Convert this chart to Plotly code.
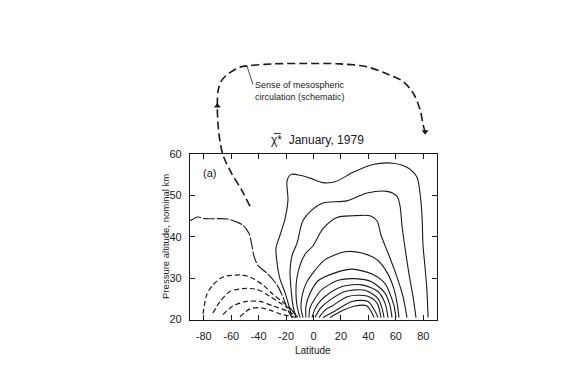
import plotly.graph_objects as go

# ---------------- data (latitude in degrees, pressure altitude in km) ----------------
x_ticks = [-80, -60, -40, -20, 0, 20, 40, 60, 80]
x_tick_labels = ["-80", "-60", "-40", "-20", "0", "20", "40", "60", "80"]
y_ticks = [20, 30, 40, 50, 60]
y_tick_labels = ["20", "30", "40", "50", "60"]

# upper-left contour (from the left edge at ~44 km down to the source near -15 deg)
l1_lat = [-90, -84.2, -79.1, -62.3, -51.4, -47.0, -44.8, -43.4, -40.5, -33.2, -26.6, -22.2, -18.6, -15.7]
l1_alt = [43.9, 44.8, 44.4, 44.3, 42.8, 40.8, 37.8, 35.4, 33.1, 31.0, 28.4, 25.4, 22.3, 20.5]

# lower-left (southern) cell, dashed
la_lat = [-80.5, -77.7, -73.3, -66.0, -53.6, -46.3, -36.8, -29.5, -23.0, -17.1, -12.8]
la_alt = [21.4, 26.1, 28.4, 30.3, 30.8, 30.3, 28.4, 26.1, 24.4, 22.8, 21.2]
lb_lat = [-73.3, -68.1, -60.9, -51.4, -41.2, -31.7, -24.4, -17.1, -12.0]
lb_alt = [21.6, 24.4, 26.8, 27.5, 27.3, 25.6, 24.0, 22.6, 20.9]
lc_lat = [-66.0, -58.7, -48.5, -39.0, -29.5, -19.3, -11.3]
lc_alt = [21.2, 23.3, 24.4, 24.4, 23.3, 22.1, 20.7]
ld_lat = [-53.6, -46.3, -39.0, -31.7, -24.4, -12.0]
ld_alt = [20.7, 22.6, 22.9, 22.3, 21.4, 20.5]

# right (northern) cell, nested contours from outermost to innermost
r1_lat = [-15.7, -17.9, -20.8, -24.4, -26.6, -27.3, -24.4, -20.8, -18.6, -19.3, -16.4, -9.8, -2.6, 6.9, 15.7,
          28.8, 43.4, 57.9, 68.1, 75.4, 77.6, 79.1, 79.8, 81.3, 82.7, 83.5]
r1_alt = [20.5, 23.3, 26.6, 29.8, 33.8, 37.3, 40.4, 44.3, 49.0, 53.5, 55.1, 54.9, 54.2, 53.1, 53.3,
          55.6, 57.5, 57.8, 56.8, 54.4, 50.6, 45.0, 38.0, 32.6, 26.8, 20.5]
r2_lat = [-12.8, -14.9, -16.4, -17.1, -15.7, -12.0, -7.7, -0.4, 6.9, 24.4, 39.0, 53.6, 60.9, 63.0, 64.5,
          66.7, 69.6, 72.5, 74.7]
r2_alt = [20.5, 23.3, 27.5, 31.5, 35.4, 38.5, 43.9, 46.7, 48.2, 48.7, 50.6, 51.0, 49.8, 47.6, 42.7,
          37.3, 31.0, 25.6, 20.5]
r3_lat = [-9.8, -12.0, -12.8, -12.0, -9.1, -5.5, -0.4, 6.9, 17.1, 28.8, 41.2, 46.3, 49.2, 54.3, 60.1, 65.2, 68.1]
r3_alt = [20.5, 23.3, 26.8, 30.3, 33.8, 36.1, 37.8, 42.0, 44.7, 45.1, 45.1, 43.9, 40.4, 36.1, 31.0, 25.6, 20.5]
r4_lat = [-7.7, -9.1, -8.4, -5.5, 1.1, 8.4, 23.0, 35.3, 47.0, 54.3, 58.7, 60.9, 62.3]
r4_alt = [20.5, 22.8, 25.6, 28.7, 31.9, 34.5, 36.4, 36.1, 34.3, 31.0, 27.3, 24.0, 20.5]
r5_lat = [-5.5, -5.5, -2.6, 3.3, 15.7, 28.1, 42.6, 52.1, 56.5, 58.7, 60.1]
r5_alt = [20.5, 23.3, 26.3, 29.4, 31.3, 32.2, 31.0, 28.7, 25.6, 23.3, 20.5]
r6_lat = [-3.3, -2.6, 1.1, 6.2, 17.9, 30.2, 42.6, 52.1, 55.8, 57.2]
r6_alt = [20.5, 22.8, 25.1, 27.3, 29.5, 29.9, 29.1, 26.4, 23.3, 20.5]
r7_lat = [-1.1, 1.1, 4.7, 8.4, 20.8, 35.4, 47.0, 52.1, 54.3]
r7_alt = [20.5, 22.6, 24.4, 25.6, 28.0, 28.4, 26.8, 24.0, 20.5]
r8_lat = [1.1, 4.7, 10.6, 23.0, 37.5, 47.0, 49.9, 51.4]
r8_alt = [20.5, 22.6, 24.4, 26.8, 27.1, 25.1, 22.8, 20.5]
r9_lat = [4.0, 8.4, 13.5, 25.1, 39.0, 46.3, 49.2]
r9_alt = [20.5, 22.3, 23.3, 25.6, 25.7, 24.0, 20.5]
r10_lat = [6.9, 15.7, 28.1, 39.7, 44.8, 47.0]
r10_alt = [20.5, 22.1, 24.4, 24.4, 22.1, 20.5]
r11_lat = [12.0, 19.3, 30.2, 39.0, 44.1]
r11_alt = [20.5, 21.9, 23.3, 23.3, 20.5]

# schematic mesospheric circulation (drawn above the panel, same lat / km units)
arrow_lat = [-46.3, -52.3, -59.6, -65.7, -68.1, -69.4, -70.1, -69.4, -66.9, -62.1, -53.6, -46.3, -29.3,
             -5.0, 19.3, 38.8, 53.4, 65.5, 72.7, 77.6, 80.0, 81.3]
arrow_alt = [47.4, 51.3, 55.3, 59.5, 63.0, 66.5, 71.6, 75.5, 77.8, 79.4, 81.0, 81.4, 81.8,
             81.9, 81.8, 81.1, 79.4, 77.5, 74.7, 70.8, 66.9, 65.4]
leader_lat = [-48.5, -44.1]
leader_alt = [81.3, 76.8]

# ---------------- layout geometry (pixels) ----------------
W, H = 576, 375
X0, X1, YT, YB = 190, 437, 153, 324
XR = [-90, 90]
YR = [20, 60]

dx0, dx1 = X0 / W, X1 / W
dy0, dy1 = (H - YB) / H, (H - YT) / H
ppx = (X1 - X0) / (XR[1] - XR[0])
ppy = (YB - YT) / (YR[1] - YR[0])
x2_range = [XR[0] - X0 / ppx, XR[1] + (W - X1) / ppx]
y2_range = [YR[0] - (H - YB) / ppy, YR[1] + YT / ppy]

FONT = "Liberation Sans, Arial, sans-serif"
INK = "#1a1a1a"

fig = go.Figure()

solid = dict(color=INK, width=1.1, shape="spline", smoothing=0.8)
dashed = dict(color=INK, width=1.2, shape="spline", smoothing=0.8, dash="5px,3px")

fig.add_trace(go.Scatter(x=l1_lat, y=l1_alt, mode="lines",
                         line=dict(color=INK, width=1.1, shape="spline", smoothing=0.8, dash="12px,2px")))
for la, al in [(la_lat, la_alt), (lb_lat, lb_alt), (lc_lat, lc_alt), (ld_lat, ld_alt)]:
    fig.add_trace(go.Scatter(x=la, y=al, mode="lines", line=dashed))
for la, al in [(r1_lat, r1_alt), (r2_lat, r2_alt), (r3_lat, r3_alt), (r4_lat, r4_alt),
               (r5_lat, r5_alt), (r6_lat, r6_alt), (r7_lat, r7_alt), (r8_lat, r8_alt),
               (r9_lat, r9_alt), (r10_lat, r10_alt), (r11_lat, r11_alt)]:
    fig.add_trace(go.Scatter(x=la, y=al, mode="lines", line=solid))

# arrow on the full-figure overlay axes
fig.add_trace(go.Scatter(x=arrow_lat, y=arrow_alt, mode="lines", xaxis="x2", yaxis="y2",
                         line=dict(color=INK, width=1.6, shape="spline", smoothing=0.9, dash="8px,4px")))
fig.add_trace(go.Scatter(x=[arrow_lat[6], arrow_lat[-1]], y=[arrow_alt[6], arrow_alt[-1]],
                         mode="markers", xaxis="x2", yaxis="y2",
                         marker=dict(symbol=["triangle-up", "triangle-down"], size=6, color=INK)))
fig.add_trace(go.Scatter(x=leader_lat, y=leader_alt, mode="lines", xaxis="x2", yaxis="y2",
                         line=dict(color=INK, width=0.8)))

axis_common = dict(showgrid=False, zeroline=False, showline=True, linecolor=INK, linewidth=1.2,
                   mirror="ticks", ticks="inside", ticklen=5, tickwidth=1, tickcolor=INK,
                   tickfont=dict(family=FONT, size=11, color=INK))

fig.update_layout(
    width=W, height=H,
    margin=dict(l=0, r=0, t=0, b=0),
    paper_bgcolor="white", plot_bgcolor="rgba(0,0,0,0)",
    showlegend=False,
    xaxis=dict(domain=[dx0, dx1], range=XR, tickvals=x_ticks, ticktext=x_tick_labels,
               ticklabelstandoff=6, **axis_common),
    yaxis=dict(domain=[dy0, dy1], range=YR, tickvals=y_ticks, ticktext=y_tick_labels,
               ticklabelstandoff=5, **axis_common),
    xaxis2=dict(domain=[0, 1], range=x2_range, visible=False, anchor="y2"),
    yaxis2=dict(domain=[0, 1], range=y2_range, visible=False, anchor="x2"),
    annotations=[
        dict(text="χ\u0305*  January, 1979", xref="paper", yref="paper",
             x=317 / W, y=1 - 138 / H, yanchor="middle", showarrow=False,
             font=dict(family=FONT, size=12, color=INK)),
        dict(text="(a)", xref="paper", yref="paper", x=209 / W, y=1 - 173 / H, yanchor="middle",
             showarrow=False, font=dict(family=FONT, size=11, color=INK)),
        dict(text="Latitude", xref="paper", yref="paper", x=313 / W, y=1 - 356 / H, yanchor="middle",
             showarrow=False, font=dict(family=FONT, size=10, color=INK)),
        dict(text="Pressure altitude, nominal km", xref="paper", yref="paper", x=158 / W, y=1 - 238 / H,
             yanchor="middle", showarrow=False, textangle=-90, font=dict(family=FONT, size=9.5, color=INK)),
        dict(text="Sense of mesospheric<br>circulation (schematic)", xref="paper", yref="paper",
             x=253 / W, y=1 - 88 / H, xanchor="left", yanchor="middle", align="left", showarrow=False,
             font=dict(family=FONT, size=9, color=INK)),
    ],
)

fig.write_html("out.html")
